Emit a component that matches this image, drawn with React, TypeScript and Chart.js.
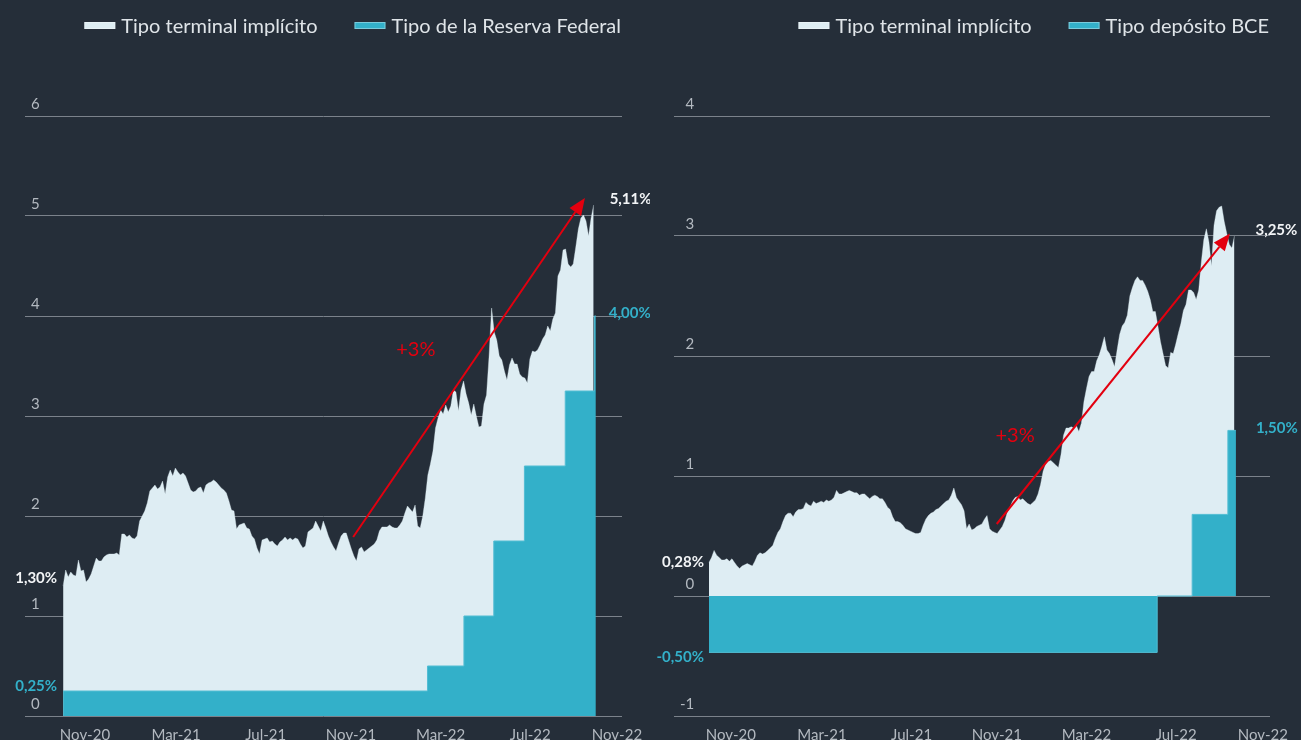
import React, { useEffect, useRef } from 'react';
import { Chart, registerables } from 'chart.js';

Chart.register(...registerables);

const FONT = 'Lato, "Open Sans", "DejaVu Sans", sans-serif';
const BG = '#252e39';
const LIGHT = '#deedf3';
const TEAL = '#33b0c9';
const RED = '#e3000f';
const GRID = '#7b828b';
const TICK = '#b3b9c0';
const LEGEND_TEXT = '#dfe4e8';

// Observations every half week (3.5 days), day 0 = first observation
const STEP_DAYS = 3.5;
const X_TICK_DAYS = [30, 155, 278, 395, 518, 641, 760];
const X_TICK_LABELS = ['Nov-20', 'Mar-21', 'Jul-21', 'Nov-21', 'Mar-22', 'Jul-22', 'Nov-22'];

// ---- Left chart: United States ----
const US_TERMINAL_LABEL = 'Tipo terminal implícito';
const US_POLICY_LABEL = 'Tipo de la Reserva Federal';
const US_TERMINAL = [
  1.30, 1.46, 1.39, 1.44, 1.41, 1.40, 1.56, 1.45, 1.46, 1.34,
  1.37, 1.42, 1.50, 1.58, 1.55, 1.55, 1.59, 1.61, 1.62, 1.62,
  1.62, 1.63, 1.61, 1.82, 1.82, 1.79, 1.81, 1.78, 1.77, 1.80,
  1.95, 2.00, 2.05, 2.13, 2.25, 2.28, 2.31, 2.27, 2.29, 2.35,
  2.22, 2.39, 2.46, 2.40, 2.48, 2.44, 2.41, 2.43, 2.40, 2.33,
  2.26, 2.24, 2.25, 2.28, 2.29, 2.23, 2.31, 2.33, 2.34, 2.36,
  2.34, 2.31, 2.28, 2.26, 2.23, 2.15, 2.06, 2.05, 1.87, 1.91,
  1.92, 1.93, 1.88, 1.87, 1.80, 1.77, 1.68, 1.62, 1.76, 1.77,
  1.78, 1.74, 1.75, 1.72, 1.70, 1.74, 1.76, 1.79, 1.76, 1.78,
  1.76, 1.78, 1.77, 1.72, 1.68, 1.70, 1.84, 1.86, 1.88, 1.95,
  1.90, 1.85, 1.95, 1.88, 1.80, 1.74, 1.69, 1.65, 1.73, 1.80,
  1.83, 1.83, 1.75, 1.67, 1.60, 1.55, 1.67, 1.69, 1.64, 1.66,
  1.68, 1.70, 1.72, 1.76, 1.85, 1.89, 1.89, 1.89, 1.91, 1.89,
  1.88, 1.88, 1.91, 1.95, 2.03, 2.10, 2.07, 2.04, 2.11, 1.90,
  1.88, 2.00, 2.18, 2.41, 2.52, 2.65, 2.88, 2.98, 3.06, 3.02,
  3.11, 3.04, 3.10, 3.26, 3.24, 3.05, 3.26, 3.35, 3.22, 3.13,
  3.01, 3.12, 3.00, 2.89, 2.90, 3.12, 3.21, 3.60, 4.08, 3.84,
  3.76, 3.60, 3.56, 3.45, 3.36, 3.51, 3.58, 3.52, 3.52, 3.42,
  3.39, 3.38, 3.33, 3.57, 3.65, 3.64, 3.66, 3.71, 3.77, 3.81,
  3.90, 3.85, 3.97, 4.03, 4.40, 4.46, 4.66, 4.67, 4.52, 4.49,
  4.52, 4.69, 4.87, 4.98, 5.01, 4.95, 4.80, 4.98, 5.11,
];
const FED_DAYS = [0, 500, 550, 591, 633, 689, 729, 731];
const FED_RATES = [0.25, 0.5, 1.0, 1.75, 2.5, 3.25, 4.0, 4.0];

// ---- Right chart: Eurozone ----
const EU_TERMINAL_LABEL = 'Tipo terminal implícito';
const EU_POLICY_LABEL = 'Tipo depósito BCE';
const EU_TERMINAL = [
  0.28, 0.32, 0.38, 0.34, 0.32, 0.30, 0.30, 0.31, 0.29, 0.31,
  0.28, 0.25, 0.23, 0.25, 0.26, 0.27, 0.26, 0.25, 0.29, 0.34,
  0.36, 0.35, 0.36, 0.38, 0.40, 0.42, 0.48, 0.53, 0.56, 0.62,
  0.67, 0.69, 0.69, 0.66, 0.70, 0.72, 0.72, 0.73, 0.78, 0.76,
  0.75, 0.79, 0.77, 0.78, 0.79, 0.78, 0.80, 0.79, 0.80, 0.82,
  0.88, 0.85, 0.85, 0.86, 0.87, 0.88, 0.87, 0.86, 0.86, 0.84,
  0.85, 0.85, 0.83, 0.81, 0.83, 0.84, 0.83, 0.81, 0.81, 0.78,
  0.74, 0.72, 0.66, 0.62, 0.62, 0.61, 0.59, 0.56, 0.55, 0.54,
  0.53, 0.52, 0.52, 0.53, 0.59, 0.64, 0.67, 0.69, 0.70, 0.72,
  0.73, 0.75, 0.77, 0.79, 0.80, 0.84, 0.90, 0.82, 0.79, 0.76,
  0.71, 0.56, 0.60, 0.55, 0.56, 0.58, 0.59, 0.60, 0.64, 0.67,
  0.56, 0.54, 0.53, 0.52, 0.55, 0.58, 0.63, 0.70, 0.74, 0.79,
  0.82, 0.83, 0.80, 0.81, 0.79, 0.77, 0.76, 0.78, 0.80, 0.85,
  0.93, 1.04, 1.10, 1.12, 1.13, 1.11, 1.09, 1.07, 1.18, 1.34,
  1.40, 1.40, 1.41, 1.40, 1.42, 1.37, 1.44, 1.62, 1.73, 1.83,
  1.87, 1.87, 1.96, 2.01, 2.08, 2.16, 2.05, 2.02, 1.97, 1.91,
  2.05, 2.18, 2.25, 2.28, 2.34, 2.50, 2.57, 2.63, 2.66, 2.63,
  2.63, 2.59, 2.54, 2.47, 2.37, 2.37, 2.25, 2.12, 2.02, 1.92,
  1.90, 2.03, 2.02, 2.10, 2.19, 2.27, 2.38, 2.43, 2.55, 2.55,
  2.53, 2.47, 2.55, 2.78, 2.97, 3.06, 2.95, 2.75, 3.09, 3.21,
  3.24, 3.25, 3.12, 3.02, 2.93, 2.90, 3.00,
];
const ECB_DAYS = [0, 615, 663, 712, 723];
const ECB_RATES = [-0.47, 0, 0.68, 1.38, 1.38];

type Note = {
  text: string; color: string; weight: string; size: number;
  day: number; value: number; dx: number; dy: number; align: CanvasTextAlign;
};

const legendPlugin = {
  id: 'sideLegend',
  afterDraw(chart: any, _args: any, o: any) {
    const ctx = chart.ctx as CanvasRenderingContext2D;
    ctx.save();
    ctx.font = `20px ${FONT}`;
    ctx.textBaseline = 'alphabetic';
    ctx.textAlign = 'left';
    let x = chart.chartArea.right - 1;
    const items = (o.order as number[]).map((i) => chart.data.datasets[i]).reverse();
    for (const ds of items) {
      const w = ctx.measureText(ds.label).width;
      const tx = x - w;
      ctx.fillStyle = LEGEND_TEXT;
      ctx.fillText(ds.label, tx, o.baseline);
      const bx = tx - 6 - 31;
      ctx.fillStyle = ds.backgroundColor;
      ctx.fillRect(bx, o.boxTop, 31, 7);
      ctx.strokeStyle = 'rgba(255,255,255,0.35)';
      ctx.lineWidth = 1;
      ctx.strokeRect(bx + 0.5, o.boxTop + 0.5, 30, 6);
      x = bx - 37;
    }
    ctx.restore();
  },
};

const notesPlugin = {
  id: 'notes',
  afterDatasetsDraw(chart: any, _args: any, o: any) {
    const ctx = chart.ctx as CanvasRenderingContext2D;
    const xs = chart.scales.x;
    const ys = chart.scales.y;
    ctx.save();
    const a = o.arrow;
    const x0 = xs.getPixelForValue(a.from[0]);
    const y0 = ys.getPixelForValue(a.from[1]);
    const x1 = xs.getPixelForValue(a.to[0]);
    const y1 = ys.getPixelForValue(a.to[1]);
    const ang = Math.atan2(y1 - y0, x1 - x0);
    const head = 17;
    const half = 7;
    const bx = x1 - head * Math.cos(ang);
    const by = y1 - head * Math.sin(ang);
    ctx.strokeStyle = RED;
    ctx.lineWidth = 2;
    ctx.beginPath();
    ctx.moveTo(x0, y0);
    ctx.lineTo(bx, by);
    ctx.stroke();
    ctx.fillStyle = RED;
    ctx.beginPath();
    ctx.moveTo(x1, y1);
    ctx.lineTo(bx + half * Math.sin(ang), by - half * Math.cos(ang));
    ctx.lineTo(bx - half * Math.sin(ang), by + half * Math.cos(ang));
    ctx.closePath();
    ctx.fill();
    for (const n of o.labels as Note[]) {
      ctx.font = `${n.weight} ${n.size}px ${FONT}`;
      ctx.fillStyle = n.color;
      ctx.textAlign = n.align;
      ctx.textBaseline = 'middle';
      ctx.fillText(n.text, xs.getPixelForValue(n.day) + n.dx, ys.getPixelForValue(n.value) + n.dy);
    }
    ctx.restore();
  },
};

type Spec = {
  terminal: number[]; terminalLabel: string;
  policyDays: number[]; policyRates: number[]; policyLabel: string;
  yMin: number; yMax: number; xMin: number; xMax: number;
  padLeft: number; padRight: number;
  labels: Note[];
  arrow: { from: [number, number]; to: [number, number] };
};

function buildConfig(s: Spec): any {
  const terminalPts = s.terminal.map((v, i) => ({ x: i * STEP_DAYS, y: v }));
  const policyPts = s.policyDays.map((d, i) => ({ x: d, y: s.policyRates[i] }));
  return {
    type: 'line',
    data: {
      datasets: [
        {
          label: s.policyLabel,
          data: policyPts,
          stepped: true,
          fill: 'origin',
          backgroundColor: TEAL,
          borderColor: '#52bdd3',
          borderWidth: 1,
          pointRadius: 0,
        },
        {
          label: s.terminalLabel,
          data: terminalPts,
          fill: 'origin',
          backgroundColor: LIGHT,
          borderColor: 'rgba(222,237,243,0.6)',
          borderWidth: 0.6,
          pointRadius: 0,
          tension: 0,
        },
      ],
    },
    options: {
      responsive: false,
      animation: false,
      devicePixelRatio: 1,
      layout: { padding: { top: 116, left: s.padLeft, right: s.padRight, bottom: 0 } },
      plugins: {
        legend: { display: false },
        tooltip: { enabled: false },
        sideLegend: { order: [1, 0], baseline: 33, boxTop: 22 },
        notes: { labels: s.labels, arrow: s.arrow },
      },
      scales: {
        x: {
          type: 'linear',
          min: s.xMin,
          max: s.xMax,
          grid: { display: false },
          border: { display: false },
          afterBuildTicks: (scale: any) => {
            scale.ticks = X_TICK_DAYS.map((value) => ({ value }));
          },
          afterFit: (scale: any) => {
            scale.height = 24;
            scale.paddingLeft = 0;
            scale.paddingRight = 0;
          },
          ticks: {
            autoSkip: false,
            maxRotation: 0,
            minRotation: 0,
            padding: 2,
            color: TICK,
            font: { family: FONT, size: 15 },
            callback: (v: number) => X_TICK_LABELS[X_TICK_DAYS.indexOf(v)] ?? '',
          },
        },
        y: {
          min: s.yMin,
          max: s.yMax,
          grid: { color: GRID, lineWidth: 1, drawTicks: false },
          border: { display: false },
          afterFit: (scale: any) => {
            scale.width = 0;
          },
          ticks: {
            stepSize: 1,
            mirror: true,
            crossAlign: 'far',
            padding: 6,
            labelOffset: -12,
            color: TICK,
            font: { family: FONT, size: 15 },
          },
        },
      },
    },
    plugins: [legendPlugin, notesPlugin],
  };
}

const US_SPEC: Spec = {
  terminal: US_TERMINAL,
  terminalLabel: US_TERMINAL_LABEL,
  policyDays: FED_DAYS,
  policyRates: FED_RATES,
  policyLabel: US_POLICY_LABEL,
  yMin: 0, yMax: 6, xMin: -52.3, xMax: 766.9,
  padLeft: 25, padRight: 28,
  labels: [
    { text: '1,30%', color: '#f2f4f6', weight: 'bold', size: 15, day: 0, value: US_TERMINAL[0], dx: -6, dy: -8, align: 'right' },
    { text: '0,25%', color: TEAL, weight: 'bold', size: 15, day: FED_DAYS[0], value: FED_RATES[0], dx: -6, dy: -5, align: 'right' },
    { text: '5,11%', color: '#f2f4f6', weight: 'bold', size: 15, day: (US_TERMINAL.length - 1) * STEP_DAYS, value: US_TERMINAL[US_TERMINAL.length - 1], dx: 16, dy: -6, align: 'left' },
    { text: '4,00%', color: TEAL, weight: 'bold', size: 15, day: FED_DAYS[FED_DAYS.length - 1], value: FED_RATES[FED_RATES.length - 1], dx: 13, dy: -3, align: 'left' },
    { text: '+3%', color: RED, weight: 'normal', size: 20, day: 484, value: 3.66, dx: 0, dy: 0, align: 'center' },
  ],
  arrow: { from: [398, 1.79], to: [716, 5.18] },
};

const EU_SPEC: Spec = {
  terminal: EU_TERMINAL,
  terminalLabel: EU_TERMINAL_LABEL,
  policyDays: ECB_DAYS,
  policyRates: ECB_RATES,
  policyLabel: EU_POLICY_LABEL,
  yMin: -1, yMax: 4, xMin: -48, xMax: 769.8,
  padLeft: 24, padRight: 31,
  labels: [
    { text: '0,28%', color: '#f2f4f6', weight: 'bold', size: 15, day: 0, value: EU_TERMINAL[0], dx: -5, dy: 0, align: 'right' },
    { text: '-0,50%', color: TEAL, weight: 'bold', size: 15, day: ECB_DAYS[0], value: ECB_RATES[0], dx: -5, dy: 5, align: 'right' },
    { text: '3,25%', color: '#f2f4f6', weight: 'bold', size: 15, day: (EU_TERMINAL.length - 1) * STEP_DAYS, value: EU_TERMINAL[EU_TERMINAL.length - 1], dx: 21, dy: -6, align: 'left' },
    { text: '1,50%', color: TEAL, weight: 'bold', size: 15, day: ECB_DAYS[ECB_DAYS.length - 1], value: ECB_RATES[ECB_RATES.length - 1], dx: 20, dy: -2, align: 'left' },
    { text: '+3%', color: RED, weight: 'normal', size: 20, day: 420, value: 1.34, dx: 0, dy: 0, align: 'center' },
  ],
  arrow: { from: [394.8, 0.6], to: [714.9, 3.02] },
};

function RateChart({ spec, left, width }: { spec: Spec; left: number; width: number }) {
  const ref = useRef<HTMLCanvasElement>(null);
  useEffect(() => {
    const chart = new Chart(ref.current as HTMLCanvasElement, buildConfig(spec));
    return () => chart.destroy();
  }, [spec]);
  return (
    <canvas
      ref={ref}
      width={width}
      height={740}
      style={{ position: 'absolute', left, top: 0, width, height: 740 }}
    />
  );
}

export default function App() {
  return (
    <div
      style={{
        position: 'fixed',
        left: 0,
        top: 0,
        width: 1301,
        height: 740,
        background: BG,
        overflow: 'hidden',
      }}
    >
      <RateChart spec={US_SPEC} left={0} width={650} />
      <RateChart spec={EU_SPEC} left={650} width={651} />
    </div>
  );
}
